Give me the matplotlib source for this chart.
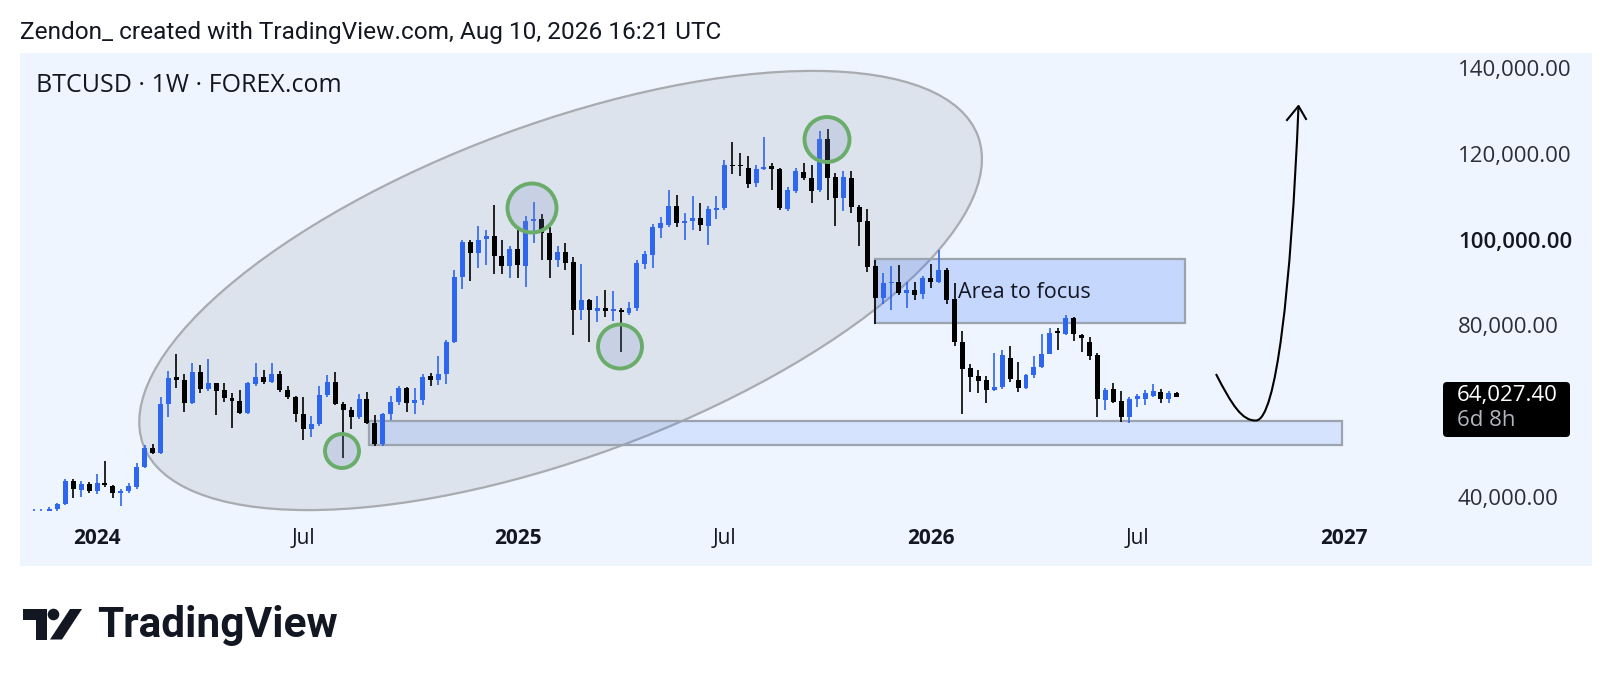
import numpy as np
import pandas as pd
import matplotlib
matplotlib.use("Agg")
import matplotlib.pyplot as plt
import matplotlib.dates as mdates
from matplotlib.patches import Ellipse, Circle, Rectangle, FancyBboxPatch, Polygon, PathPatch
from matplotlib.path import Path
from matplotlib.lines import Line2D
from matplotlib import transforms

plt.rcParams['font.family'] = ['Open Sans', 'DejaVu Sans']

# ---------------- data (weekly BTCUSD, thousands USD) ----------------
start_week = "2023-11-06"
opens = [35.0, 37.1, 37.4, 37.9, 39.1, 44.5, 42.3, 43.7, 42.0, 43.9,
         43.3, 41.6, 42.0, 43.0, 47.6, 52.1, 51.0, 62.4, 68.7, 67.8,
         62.6, 69.8, 65.7, 67.1, 65.5, 63.8, 63.0, 60.2, 66.9, 68.6,
         67.5, 69.4, 65.6, 64.0, 60.0, 56.5, 57.6, 64.4, 67.5, 62.4,
         60.9, 59.2, 63.6, 57.8, 53.0, 60.0, 62.9, 66.0, 62.5, 63.2,
         68.9, 68.0, 69.2, 76.8, 91.8, 100.0, 97.5, 100.6, 101.4, 96.7,
         94.4, 98.3, 94.5, 104.8, 105.3, 102.2, 95.8, 97.7, 95.4, 84.3,
         86.5, 84.0, 84.6, 84.0, 84.3, 83.6, 84.6, 95.0, 97.0, 103.2,
         104.0, 108.4, 104.5, 104.8, 105.6, 103.8, 107.5, 107.9, 118.0, 117.9,
         117.3, 113.8, 116.9, 117.6, 117.0, 107.7, 111.8, 116.3, 114.8, 112.0,
         124.0, 115.2, 110.2, 115.0, 108.2, 105.0, 94.4, 86.9, 90.4, 90.6,
         88.1, 88.8, 87.8, 91.6, 90.8, 93.6, 86.7, 76.8, 70.6, 68.9,
         67.9, 65.6, 66.2, 73.0, 67.9, 66.0, 69.1, 70.9, 74.0, 79.4,
         78.6, 82.3, 78.4, 76.8, 73.7, 63.3, 65.7, 63.1, 59.4, 63.6,
         63.6, 64.2, 65.2, 63.4, 64.8]
highs = [37.9, 37.9, 38.4, 39.3, 44.8, 44.9, 44.5, 44.1, 46.0, 49.1,
         43.6, 42.5, 44.0, 48.6, 52.8, 53.0, 64.0, 70.1, 73.9, 69.3,
         71.8, 71.3, 72.7, 67.3, 67.3, 65.0, 65.6, 67.4, 71.9, 70.3,
         71.9, 70.0, 66.4, 64.3, 63.9, 59.5, 66.4, 69.0, 69.8, 62.8,
         61.7, 64.6, 65.2, 59.8, 60.2, 64.1, 66.5, 66.3, 66.0, 69.4,
         69.5, 73.6, 77.3, 93.6, 100.5, 100.5, 103.7, 102.8, 108.6, 100.5,
         99.1, 102.9, 106.0, 109.4, 106.5, 103.4, 99.1, 99.8, 96.6, 94.9,
         86.8, 87.4, 88.8, 88.7, 84.7, 86.0, 95.7, 98.0, 104.3, 105.7,
         112.0, 110.9, 106.8, 110.7, 109.0, 108.3, 110.6, 119.1, 123.3, 120.6,
         120.0, 118.0, 124.5, 118.3, 117.3, 112.9, 117.3, 118.3, 117.9, 125.7,
         126.3, 116.0, 116.6, 116.6, 108.5, 107.6, 95.8, 92.9, 94.4, 94.6,
         90.6, 90.7, 92.0, 94.9, 98.1, 94.0, 90.4, 79.4, 71.6, 70.2,
         68.8, 74.1, 74.9, 75.8, 72.0, 69.4, 73.5, 78.6, 80.0, 79.9,
         83.0, 82.6, 78.6, 78.0, 74.1, 66.0, 67.3, 65.4, 64.0, 64.7,
         65.6, 67.0, 65.7, 65.3, 65.1]
lows = [34.6, 35.6, 36.7, 37.5, 38.9, 40.5, 40.8, 41.6, 41.5, 43.0,
        40.4, 38.7, 41.6, 42.5, 47.5, 50.6, 50.6, 59.2, 66.0, 60.5,
        62.4, 64.9, 65.3, 59.8, 62.8, 56.7, 60.0, 60.0, 66.4, 67.0,
        67.2, 65.2, 63.4, 58.1, 54.0, 54.7, 57.2, 64.0, 62.0, 49.7,
        56.4, 58.9, 57.6, 52.6, 52.6, 58.5, 62.0, 60.5, 60.1, 62.0,
        66.6, 66.8, 67.0, 76.5, 89.0, 91.0, 93.9, 94.7, 92.6, 92.6,
        91.6, 91.6, 89.5, 99.7, 95.8, 91.6, 94.3, 93.5, 78.4, 81.9,
        76.8, 81.5, 82.5, 81.7, 74.5, 83.0, 83.9, 93.7, 94.0, 100.9,
        103.5, 103.5, 100.4, 102.8, 102.6, 99.3, 105.3, 107.5, 115.8, 115.3,
        112.5, 112.7, 116.7, 112.1, 107.5, 107.3, 111.5, 114.4, 109.0, 111.7,
        109.8, 103.7, 107.1, 106.7, 99.1, 93.1, 80.9, 85.6, 84.2, 87.7,
        84.6, 86.6, 86.8, 89.2, 90.4, 85.6, 75.8, 60.0, 65.2, 65.0,
        62.6, 65.3, 65.8, 67.5, 65.2, 65.8, 68.3, 70.6, 73.9, 75.0,
        78.3, 77.0, 74.5, 72.6, 59.2, 60.9, 62.5, 58.2, 58.0, 61.6,
        62.1, 64.0, 62.5, 62.5, 63.9]
closes = [37.4, 37.4, 37.8, 39.1, 44.5, 42.6, 43.7, 42.0, 43.9, 43.4,
          41.6, 42.2, 43.2, 47.7, 52.1, 51.0, 62.4, 68.3, 67.8, 62.6,
          69.8, 65.8, 67.3, 65.4, 63.7, 63.0, 60.2, 67.1, 68.7, 67.4,
          69.3, 65.6, 64.0, 59.9, 56.5, 57.7, 64.4, 67.5, 62.3, 60.9,
          59.2, 63.6, 58.0, 53.0, 60.0, 62.9, 66.0, 62.5, 63.2, 68.7,
          68.0, 69.4, 76.8, 91.8, 100.0, 97.5, 100.5, 101.4, 96.7, 94.4,
          98.3, 94.6, 105.0, 105.3, 102.2, 95.8, 97.7, 95.2, 84.3, 86.5,
          84.2, 84.6, 84.0, 84.4, 83.8, 84.6, 95.2, 97.2, 103.4, 104.5,
          108.4, 104.5, 105.0, 105.6, 104.0, 107.6, 108.0, 117.9, 117.6, 117.7,
          113.6, 116.9, 117.5, 116.9, 107.8, 112.0, 116.6, 114.8, 111.9, 124.0,
          114.8, 110.2, 115.2, 108.1, 104.7, 94.3, 86.9, 90.5, 90.8, 88.1,
          88.8, 87.7, 91.6, 90.8, 93.6, 86.5, 76.8, 70.4, 68.7, 67.7,
          65.6, 66.3, 73.7, 68.1, 66.0, 69.1, 71.0, 74.0, 78.9, 78.9,
          82.3, 78.6, 77.6, 73.5, 63.4, 65.6, 62.9, 59.4, 63.6, 64.2,
          64.8, 65.4, 63.4, 64.8, 64.0274]

price_ticks = [140000, 120000, 100000, 80000, 40000]
price_tick_labels = ["140,000.00", "120,000.00", "100,000.00", "80,000.00", "40,000.00"]
time_ticks = ["2024-01-01", "2024-07-01", "2025-01-06", "2025-07-07",
              "2026-01-05", "2026-07-06", "2027-01-04"]
time_tick_labels = ["2024", "Jul", "2025", "Jul", "2026", "Jul", "2027"]
time_tick_bold = [True, False, True, False, True, False, True]
last_price_label = "64,027.40"
countdown_label = "6d 8h"

# focus zones (annotations)
focus_zone = ("2025-11-17", "2026-08-17", 81200, 96000)
support_zone = ("2024-08-28", "2027-01-03", 52800, 58400)

# ---------------- figure ----------------
W, H = 1612, 686
fig = plt.figure(figsize=(W / 100, H / 100), dpi=100)
fig.patch.set_facecolor("white")
PX = transforms.Affine2D().scale(1 / 100) + fig.dpi_scale_trans  # pixel coords, y up


def P(x, y):
    return (x, H - y)


BG = "#eef5fe"
BLUE = "#2f66ee"
BLACK = "#000000"
TXT = "#131722"

fig.add_artist(Rectangle(P(20, 566), 1572, 513, transform=PX, facecolor=BG,
                         edgecolor="none", zorder=0))

ax = fig.add_axes([20 / W, (H - 511) / H, 1420 / W, 458 / H])
ax.set_facecolor("none")
for s in ax.spines.values():
    s.set_visible(False)
ax.set_xticks([])
ax.set_yticks([])

o = np.array(opens) * 1000
h = np.array(highs) * 1000
l = np.array(lows) * 1000
c = np.array(closes) * 1000
dates = pd.date_range(start_week, periods=len(o), freq="7D")
xd = mdates.date2num(dates)
t0 = xd[0]
step = 7.94  # px per week
ax.set_xlim(t0 + 7 * (20 - 33.5) / step, t0 + 7 * (1440 - 33.5) / step)
ax.set_ylim(140000 - (511 - 70) / 4.3 * 1000, 140000 + (70 - 53) / 4.3 * 1000)

up = c >= o
col = np.where(up, BLUE, BLACK)
ax.vlines(xd, l, h, colors=col, lw=1.2, zorder=3)
ax.bar(xd, np.maximum(np.abs(c - o), 250), bottom=np.minimum(o, c), width=4.4,
       color=col, linewidth=0, zorder=4)

# big ellipse
ax.add_patch(Ellipse(P(560.6, 290.5), 890, 333, angle=20.3, transform=PX,
                     facecolor=(0.45, 0.47, 0.5, 0.14), edgecolor="#a8abb0",
                     lw=1.6, clip_on=False, zorder=2))

# zones
fz0, fz1 = mdates.date2num(pd.Timestamp(focus_zone[0])), mdates.date2num(pd.Timestamp(focus_zone[1]))
ax.add_patch(Rectangle((fz0, focus_zone[2]), fz1 - fz0, focus_zone[3] - focus_zone[2],
                       facecolor=(0.16, 0.38, 1.0, 0.2), edgecolor="#9aa3ae", lw=1.6, zorder=2))
sz0, sz1 = mdates.date2num(pd.Timestamp(support_zone[0])), mdates.date2num(pd.Timestamp(support_zone[1]))
ax.add_patch(Rectangle((sz0, support_zone[2]), sz1 - sz0, support_zone[3] - support_zone[2],
                       facecolor=(0.16, 0.38, 1.0, 0.12), edgecolor="#9aa3ae", lw=1.6, zorder=2))
ax.text(958, H - 293, "Area to focus", transform=PX, fontsize=15.5, color=TXT,
        ha="left", va="center", zorder=6)

# green circles
for cx, cy, r in [(342, 451, 17), (532, 208, 24.5), (620, 346.5, 22), (827, 139.5, 22.5)]:
    ax.add_patch(Circle(P(cx, cy), r, transform=PX, facecolor=(0.45, 0.55, 0.75, 0.2),
                        edgecolor="#6aac6a", lw=2.8, clip_on=False, zorder=5))

# curved arrow
verts = [P(1216, 374), P(1232, 405), P(1242, 421), P(1256, 420.5),
         P(1276, 420), P(1291, 290), P(1298.5, 106)]
codes = [Path.MOVETO, Path.CURVE4, Path.CURVE4, Path.CURVE4,
         Path.CURVE4, Path.CURVE4, Path.CURVE4]
ax.add_patch(PathPatch(Path(verts, codes), transform=PX, facecolor="none",
                       edgecolor="black", lw=1.5, clip_on=False, zorder=6))
hx, hy = zip(P(1287, 120), P(1298.5, 106), P(1306, 119))
ax.add_line(Line2D(hx, hy, transform=PX, color="black", lw=1.5, clip_on=False, zorder=6))

# price scale labels
ytr = transforms.blended_transform_factory(PX, ax.transData)
for v, lab in zip(price_ticks, price_tick_labels):
    bold = lab.startswith("100,")
    ax.text(1458, v, lab, transform=ytr, fontsize=16, color=TXT if bold else "#2a2e39",
            fontweight="semibold" if bold else "normal", ha="left", va="center", clip_on=False)

ax.add_patch(FancyBboxPatch(P(1443, 437), 127, 55, boxstyle="round,pad=0,rounding_size=4",
                            transform=PX, facecolor="black", edgecolor="none", clip_on=False, zorder=6))
ax.text(1457, H - 396, last_price_label, transform=PX, fontsize=16, color="white",
        ha="left", va="center", zorder=7)
ax.text(1457, H - 420, countdown_label, transform=PX, fontsize=16, color="#b2b5be",
        ha="left", va="center", zorder=7)

# time axis labels
xtr = transforms.blended_transform_factory(ax.transData, PX)
for d, lab, b in zip(time_ticks, time_tick_labels, time_tick_bold):
    ax.text(mdates.date2num(pd.Timestamp(d)), H - 538, lab, transform=xtr, fontsize=15,
            color=TXT, fontweight="bold" if b else "normal", ha="center", va="center", clip_on=False)

# header and legend
fig.text(20, H - 33, "Zendon_ created with TradingView.com, Aug 10, 2026 16:21 UTC",
         transform=PX, fontsize=17.6, color=TXT, ha="left", va="center", family=["Roboto", "DejaVu Sans"])
fig.text(36, H - 86, "BTCUSD \u00b7 1W \u00b7 FOREX.com", transform=PX, fontsize=18,
         color=TXT, ha="left", va="center")

# TradingView logo
fig.add_artist(Polygon([P(23, 609), P(47, 609), P(47, 639.5), P(36, 639.5), P(36, 620), P(23, 620)],
                       closed=True, transform=PX, facecolor=TXT, edgecolor="none"))
fig.add_artist(Circle(P(53.5, 614.5), 5.8, transform=PX, facecolor=TXT, edgecolor="none"))
fig.add_artist(Polygon([P(50, 639.5), P(62, 639.5), P(82, 609), P(70, 609)],
                       closed=True, transform=PX, facecolor=TXT, edgecolor="none"))
fig.text(97, H - 625, "TradingView", transform=PX, fontsize=30.5, fontweight="bold",
         color=TXT, ha="left", va="center", family=["Roboto", "DejaVu Sans"])

fig.savefig("out.png", dpi=100, facecolor="white")
